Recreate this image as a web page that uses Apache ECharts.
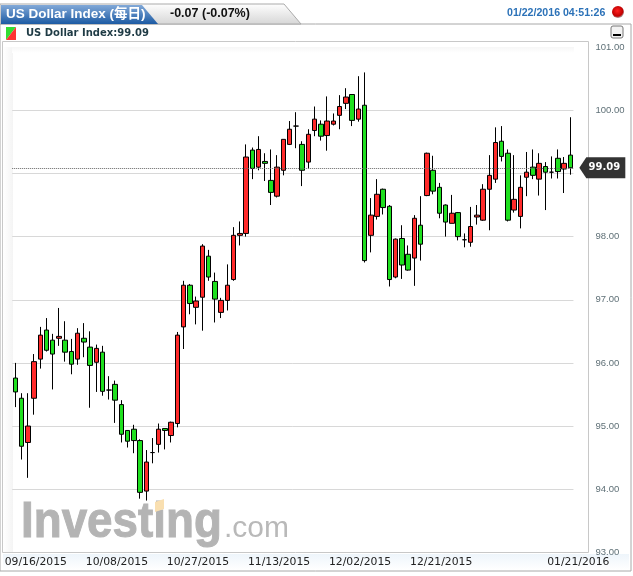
<!DOCTYPE html>
<html><head><meta charset="utf-8">
<style>html,body{margin:0;padding:0;background:#fff}#c{width:633px;height:576px}</style>
<script src="https://cdn.jsdelivr.net/npm/echarts@6/dist/echarts.min.js"></script>
</head><body><div id="c"></div>
<script>
const opens=[95.76,95.44,94.74,95.44,96.06,96.52,96.36,96.39,96.36,96.18,
96.06,96.39,96.25,96.01,96.17,95.57,95.66,95.34,94.93,94.95,
94.77,93.97,94.58,94.71,94.96,94.85,95.04,96.57,97.23,96.88,
97.04,97.69,97.29,96.80,96.99,97.32,98.02,98.05,99.37,99.10,
99.19,98.89,98.64,99.05,99.46,99.75,99.46,99.18,99.68,99.78,
99.60,99.78,99.92,100.11,100.25,99.86,100.08,98.02,98.32,98.75,
98.48,97.36,97.97,97.72,97.66,98.18,98.65,99.05,98.78,98.50,
98.21,98.38,97.95,97.91,98.31,98.26,98.75,98.91,99.51,99.32,
98.42,98.32,98.94,99.10,98.91,99.11,99.02,99.24,99.07,99.29];
const closes=[95.54,94.68,95.00,96.02,96.44,96.20,96.14,96.42,96.17,95.98,
96.47,96.33,95.96,96.23,95.55,95.57,95.41,94.87,94.76,94.77,
93.95,94.43,94.58,94.95,94.93,95.06,96.44,97.23,96.94,96.98,
97.85,97.36,97.01,96.99,97.23,98.02,98.05,99.26,99.08,99.38,
99.16,98.70,99.10,99.54,99.70,99.75,99.05,99.62,99.86,99.59,
99.83,99.83,100.06,100.21,99.84,100.02,97.62,98.34,98.67,98.46,
97.32,97.96,97.55,97.47,98.29,97.88,99.32,98.72,98.37,98.23,
98.37,98.00,97.95,98.16,98.34,98.75,98.97,99.49,99.27,98.26,
98.59,98.78,99.02,98.97,99.16,99.02,99.02,99.03,99.16,99.09];
const lows=[95.30,94.47,94.18,95.18,95.91,96.18,95.58,96.27,96.02,95.82,
95.97,96.09,95.29,95.54,95.48,95.42,95.05,94.74,94.66,94.57,
93.85,93.82,94.41,94.58,94.63,94.74,94.98,96.22,96.77,96.61,
96.51,97.30,96.64,96.71,96.83,97.30,97.86,98.00,98.91,99.05,
98.88,98.50,98.62,98.97,99.45,99.40,98.80,99.08,99.59,99.52,
99.36,99.76,99.70,100.02,99.75,99.82,97.59,97.75,98.27,98.35,
97.21,97.34,97.33,97.46,97.22,97.62,98.64,98.67,98.29,98.00,
98.21,97.94,97.83,97.84,98.19,98.25,98.10,98.85,99.19,98.24,
98.38,98.13,98.64,98.91,98.65,98.42,98.92,98.92,98.69,98.98];
const highs=[96.00,95.52,95.52,96.14,96.57,96.71,96.46,96.87,96.66,96.38,
96.55,96.63,96.50,96.29,96.27,95.79,95.72,95.41,94.93,95.02,
94.79,94.62,94.81,95.04,94.96,95.07,96.49,97.30,97.25,97.05,
97.88,97.79,97.43,97.03,97.56,98.15,98.24,99.46,99.41,99.59,
99.32,99.38,99.29,99.54,99.83,99.97,99.51,99.70,100.06,99.84,
100.22,99.95,100.24,100.35,100.25,100.54,100.60,98.61,98.91,98.76,
98.50,97.97,98.18,97.86,98.34,98.64,99.33,99.28,98.85,98.51,
98.66,98.39,98.05,98.47,98.50,98.83,99.29,99.73,99.75,99.38,
99.29,98.97,99.34,99.38,99.32,99.18,99.27,99.38,99.26,99.89];
const sessions=opens.map((_,i)=>'S'+(i+1));
const tickLabels=['09/16/2015','10/08/2015','10/27/2015','11/13/2015','12/02/2015','12/21/2015','01/21/2016'];
const tickSlots=[3,16,29,42,55,68,90];
const lastPrice=99.09;

const band=6.236, slots=92;
const labelCats=Array.from({length:slots},(_,i)=>{const k=tickSlots.indexOf(i);return k>=0?tickLabels[k]:'';});
const chart=echarts.init(document.getElementById('c'),null,{renderer:'canvas'});
const labelFont='"Liberation Sans",Arial,sans-serif', verd='"DejaVu Sans",Verdana,sans-serif';
const grad=(x,y,x2,y2,a,b)=>({type:'linear',x,y,x2,y2,colorStops:[{offset:0,color:a},{offset:1,color:b}]});
chart.setOption({
 animation:false,backgroundColor:'#fff',
 grid:[{left:12.2,width:band*90,top:47.15,height:505.2},{left:14,width:band*slots,top:47.15,height:505.2}],
 xAxis:[
  {type:'category',gridIndex:0,data:sessions,axisLine:{show:false},axisTick:{show:false},axisLabel:{show:false},splitLine:{show:false}},
  {type:'category',gridIndex:1,data:labelCats,axisLine:{show:false},axisTick:{show:false},splitLine:{show:false},
   axisLabel:{show:true,margin:4,interval:(i,v)=>v!=='',hideOverlap:false,fontFamily:verd,fontSize:10.8,color:'#222'}}
 ],
 yAxis:[
  {type:'value',gridIndex:0,position:'right',min:93,max:101,interval:1,axisLine:{show:false},axisTick:{show:false},
   splitLine:{show:true,showMinLine:false,showMaxLine:false,lineStyle:{color:'#d8d8d8',width:1}},
   axisLabel:{margin:22,fontFamily:labelFont,fontSize:9.5,color:'#5f7077',formatter:v=>v.toFixed(2),verticalAlign:'bottom',lineHeight:12,padding:[0,0,-6,0]}},
  {type:'value',gridIndex:1,show:false,min:0,max:1}
 ],
 series:[{
  type:'candlestick',xAxisIndex:0,yAxisIndex:0,barWidth:5,
  data:opens.map((o,i)=>[o,closes[i],lows[i],highs[i]]),
  itemStyle:{color:'#ff2a2a',color0:'#1fe01f',borderColor:'#000',borderColor0:'#000',borderColorDoji:'#000',borderWidth:1},
  markLine:{silent:true,symbol:'none',animation:false,label:{show:false},
   lineStyle:{type:'dotted',color:'#666',width:1},data:[{yAxis:lastPrice}]},
  markPoint:{silent:true,animation:false,symbol:'path://M0 10.5 L7 0 L46 0 L46 21 L7 21 Z',symbolSize:[46,21],symbolOffset:[32,0],
   itemStyle:{color:'#333333'},
   label:{show:true,position:'inside',offset:[2,0],color:'#fff',fontFamily:verd,fontWeight:'bold',fontSize:10,formatter:()=>lastPrice.toFixed(2)},
   data:[{coord:[89,lastPrice]}]}
 }],
 graphic:[
  {type:'rect',z:-10,shape:{x:0,y:24,width:631,height:547},style:{fill:'#fff',stroke:'#a8a8a8',lineWidth:1}},
  {type:'rect',z:-9,shape:{x:3,y:554,width:626,height:16},style:{fill:grad(0,0,0,1,'#eef5fb','#ffffff')}},
  {type:'rect',z:-9,shape:{x:2.5,y:41.5,width:586,height:511},style:{fill:'#fff',stroke:'#c8c8c8',lineWidth:1}},
  {type:'rect',z:-8,shape:{x:3,y:47,width:10,height:505},style:{fill:grad(0,0,1,0,'#ffffff','#f4f4f4')}},
  {type:'rect',z:-8,shape:{x:12,y:47,width:562,height:6},style:{fill:grad(0,0,0,1,'#f6f6f6','#ffffff')}},
  {type:'polygon',z:-7,shape:{points:[[0,24],[0,4],[284,4],[301,24]]},style:{fill:grad(0,0,0,1,'#ffffff','#d6d6d6'),stroke:'#aaa',lineWidth:1}},
  {type:'polygon',z:-6,shape:{points:[[1,24],[1,5],[142,5],[158,24]]},style:{fill:grad(0,0,0,1,'#82a9d8','#1c5aa3')}},
  {type:'text',z:-5,x:6,y:14,style:{text:'US Dollar Index (每日)',font:'bold 13.5px "Liberation Sans","Noto Sans CJK SC",sans-serif',fill:'#fff',verticalAlign:'middle'}},
  {type:'text',z:-5,x:170,y:14,style:{text:'-0.07 (-0.07%)',font:'bold 12.5px "Liberation Sans",Arial,sans-serif',fill:'#111',verticalAlign:'middle'}},
  {type:'text',z:-5,x:507,y:13,style:{text:'01/22/2016 04:51:26',font:'bold 10.6px "Liberation Sans",Arial,sans-serif',fill:'#2c72b8',verticalAlign:'middle'}},
  {type:'circle',z:-5,shape:{cx:618,cy:12,r:6},style:{fill:{type:'radial',x:.45,y:.4,r:.6,colorStops:[{offset:0,color:'#ff2020'},{offset:.75,color:'#c00000'},{offset:1,color:'#aaa'}]}}},
  {type:'rect',z:-5,shape:{x:611,y:26,width:12,height:12,r:2},style:{fill:'#f3f3f3',stroke:'#777',lineWidth:1}},
  {type:'rect',z:-4,shape:{x:613,y:34,width:8,height:2},style:{fill:'#000'}},
  {type:'polygon',z:-5,shape:{points:[[6,27],[16,27],[6,40]]},style:{fill:'#33dd33'}},
  {type:'polygon',z:-5,shape:{points:[[16,27],[16,40],[6,40]]},style:{fill:'#ff3333'}},
  {type:'text',z:-5,x:26,y:33,style:{text:'US Dollar Index:99.09',font:'bold 10px "DejaVu Sans",Verdana,sans-serif',fill:'#1f3b45',verticalAlign:'middle'}},
  {type:'text',z:-3,x:21,y:523,scaleX:0.915,style:{text:'Investing',font:'bold 50px "Liberation Sans",Arial,sans-serif',fill:'#b4b4b4',stroke:'#b4b4b4',lineWidth:1,verticalAlign:'middle'}},
  {type:'text',z:-3,x:224,y:529,style:{text:'.com',font:'30px "Liberation Sans",Arial,sans-serif',fill:'#b9b9b9',verticalAlign:'middle'}},
  {type:'polygon',z:-2,shape:{points:[[155,502],[164,499],[164,509],[155,512]]},style:{fill:'#f9dfb0'}}
 ]
});
</script></body></html>
